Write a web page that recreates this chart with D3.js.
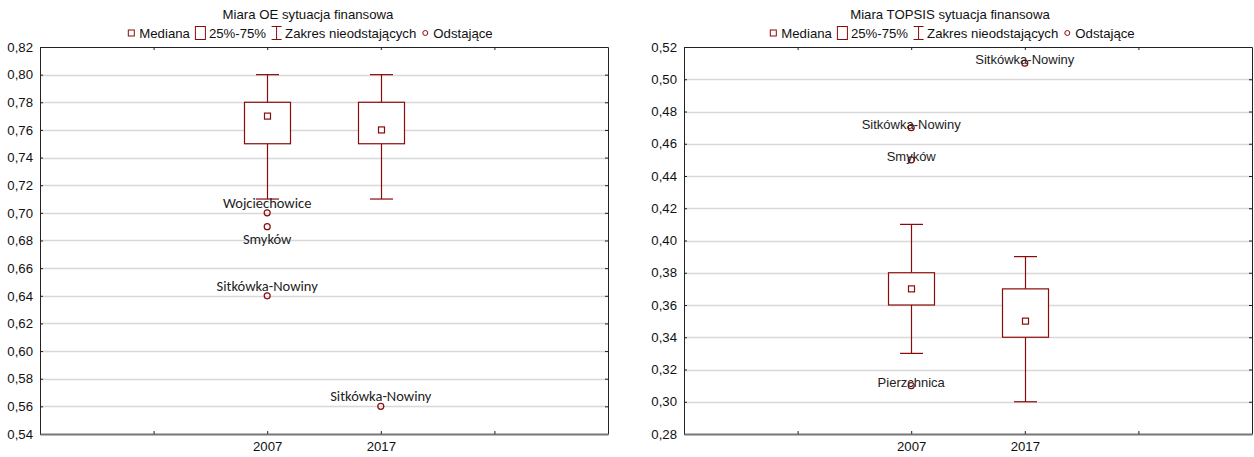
<!DOCTYPE html>
<html><head><meta charset="utf-8">
<script src="https://cdn.jsdelivr.net/npm/d3@7"></script>
<style>body{margin:0;background:#fff}svg{display:block}</style>
</head><body>
<svg id="c" width="1254" height="457"></svg>
<script>
// ---- data ----
const categories = ["2007", "2017"];
const slots = ["L", "2007", "2017", "R"];
// OE chart
const oeTitle = "Miara OE sytuacja finansowa";
const oeTicks = [0.54,0.56,0.58,0.60,0.62,0.64,0.66,0.68,0.70,0.72,0.74,0.76,0.78,0.80,0.82];
const oeMedian = [0.77, 0.76];
const oeQ1 = [0.75, 0.75];
const oeQ3 = [0.78, 0.78];
const oeMin = [0.71, 0.71];
const oeMax = [0.80, 0.80];
const oeOutCat = ["2007", "2007", "2007", "2017"];
const oeOutVal = [0.70, 0.69, 0.64, 0.56];
const oeOutName = ["Wojciechowice", "Smyków", "Sitkówka-Nowiny", "Sitkówka-Nowiny"];
const oeOutPos = ["above", "below", "above", "above"];
// TOPSIS chart
const tpTitle = "Miara TOPSIS sytuacja finansowa";
const tpTicks = [0.28,0.30,0.32,0.34,0.36,0.38,0.40,0.42,0.44,0.46,0.48,0.50,0.52];
const tpMedian = [0.37, 0.35];
const tpQ1 = [0.36, 0.34];
const tpQ3 = [0.38, 0.37];
const tpMin = [0.33, 0.30];
const tpMax = [0.41, 0.39];
const tpOutCat = ["2007", "2007", "2007", "2017"];
const tpOutVal = [0.47, 0.45, 0.31, 0.51];
const tpOutName = ["Sitkówka-Nowiny", "Smyków", "Pierzchnica", "Sitkówka-Nowiny"];
const legendLabels = ["Mediana", "25%-75%", "Zakres nieodstających", "Odstające"];

const RED = "#8b0a0a";
const FS = 13.2;
const svg = d3.select("#c");
const fmt = v => d3.format(".2f")(v).replace(".", ",");

function legend(g, cx, y) {
  const lg = g.append("g");
  let x = 0;
  legendLabels.forEach((lab, i) => {
    const it = lg.append("g").attr("transform", `translate(${x},0)`);
    let iw;
    if (i === 0) { it.append("rect").attr("x",1).attr("y",-3).attr("width",6).attr("height",6).attr("fill","none").attr("stroke",RED); iw = 11; }
    else if (i === 1) { it.append("rect").attr("x",0.5).attr("y",-6.5).attr("width",10).attr("height",13).attr("fill","none").attr("stroke",RED); iw = 13; }
    else if (i === 2) {
      it.append("path").attr("d","M0.5,-6.5H10.5M5.5,-6.5V6.5M0.5,6.5H10.5").attr("fill","none").attr("stroke",RED); iw = 13; }
    else { it.append("circle").attr("cx",4).attr("cy",0).attr("r",2.5).attr("fill","none").attr("stroke",RED); iw = 11; }
    const t = it.append("text").attr("x", iw + 1).attr("y", 4.5).text(lab)
      .attr("font-family","Liberation Sans, Arial").attr("font-size",FS).attr("fill","#111");
    const w = t.node().getComputedTextLength();
    x += iw + 1 + w + 5;
  });
  const total = x - 5;
  lg.attr("transform", `translate(${cx - total/2},${y})`);
}

function chart(opt) {
  const {x0, x1, y0, y1, ticks, med, q1, q3, mn, mx, oc, ov, on, title, labelFont, labelPos, cx} = opt;
  const g = svg.append("g");
  const y = d3.scaleLinear().domain([ticks[0], ticks[ticks.length-1]]).range([y1, y0]);
  const x = d3.scalePoint().domain(slots).range([x0, x1]).padding(1);

  g.append("text").attr("x", cx).attr("y", 19).attr("text-anchor","middle")
    .attr("font-family","Liberation Sans, Arial").attr("font-size",FS).attr("fill","#111").text(title);
  legend(g, cx + 2, 33);

  g.append("g").selectAll("line").data(ticks.slice(1, -1)).join("line")
    .attr("x1", x0).attr("x2", x1).attr("y1", d => Math.round(y(d)) + 0.5).attr("y2", d => Math.round(y(d)) + 0.5)
    .attr("stroke", "#d8d8d8").attr("stroke-width", 1.5);

  const ya = g.append("g").attr("transform", `translate(${x0},0)`)
    .call(d3.axisLeft(y).tickValues(ticks).tickFormat(fmt).tickSizeInner(-3).tickSizeOuter(0).tickPadding(7));
  const yr = g.append("g").attr("transform", `translate(${x1},0)`)
    .call(d3.axisRight(y).tickValues(ticks).tickFormat("").tickSizeInner(-3).tickSizeOuter(0));
  const xb = g.append("g").attr("transform", `translate(0,${y1})`)
    .call(d3.axisBottom(x).tickFormat(d => categories.includes(d) ? d : "").tickSizeInner(-3).tickSizeOuter(0).tickPadding(8));
  const xt = g.append("g").attr("transform", `translate(0,${y0})`)
    .call(d3.axisTop(x).tickFormat("").tickSizeInner(-3).tickSizeOuter(0));
  [ya, yr, xb, xt].forEach(a => {
    a.selectAll("text").attr("font-family","Liberation Sans, Arial").attr("font-size",FS).attr("fill","#111");
    a.selectAll(".tick line").attr("stroke","#222");
    a.select(".domain").attr("stroke","#222");
  });
  xb.select(".domain").attr("stroke","#777").attr("stroke-width",2);

  const bw = 46, cw = 23, ms = 6;
  categories.forEach((c, i) => {
    const px = Math.round(x(c)) + 0.5;
    const bx = g.append("g").attr("fill","none").attr("stroke",RED).attr("stroke-width",1.2);
    bx.append("line").attr("x1",px).attr("x2",px).attr("y1",y(mx[i])).attr("y2",y(q3[i]));
    bx.append("line").attr("x1",px).attr("x2",px).attr("y1",y(q1[i])).attr("y2",y(mn[i]));
    bx.append("line").attr("x1",px-cw/2).attr("x2",px+cw/2).attr("y1",y(mx[i])).attr("y2",y(mx[i]));
    bx.append("line").attr("x1",px-cw/2).attr("x2",px+cw/2).attr("y1",y(mn[i])).attr("y2",y(mn[i]));
    bx.append("rect").attr("x",px-bw/2).attr("width",bw).attr("y",y(q3[i])).attr("height",y(q1[i])-y(q3[i])).attr("fill","#fff");
    bx.append("rect").attr("x",px-ms/2).attr("width",ms).attr("y",y(med[i])-ms/2).attr("height",ms);
  });

  ov.forEach((v, i) => {
    const px = x(oc[i]), py = y(v);
    g.append("circle").attr("cx",px).attr("cy",py).attr("r",3).attr("fill","none").attr("stroke",RED).attr("stroke-width",1.2);
    let ty;
    if (labelPos) ty = labelPos[i] === "above" ? py - 5 : py + 17;
    else ty = py + 1;
    g.append("text").attr("x",px).attr("y",ty).attr("text-anchor","middle")
      .attr("font-family",labelFont.family).attr("font-size",labelFont.size).attr("fill","#222").text(on[i]);
  });
}

chart({x0:40, x1:608, y0:47, y1:434, ticks:oeTicks, med:oeMedian, q1:oeQ1, q3:oeQ3, mn:oeMin, mx:oeMax,
  oc:oeOutCat, ov:oeOutVal, on:oeOutName, title:oeTitle, labelPos:oeOutPos, cx:308,
  labelFont:{family:"Carlito, Lato, 'Open Sans', sans-serif", size:14.5}});
chart({x0:684, x1:1252, y0:47, y1:434, ticks:tpTicks, med:tpMedian, q1:tpQ1, q3:tpQ3, mn:tpMin, mx:tpMax,
  oc:tpOutCat, ov:tpOutVal, on:tpOutName, title:tpTitle, labelPos:null, cx:950,
  labelFont:{family:"Liberation Sans, Arial", size:13}});
</script>
</body></html>
